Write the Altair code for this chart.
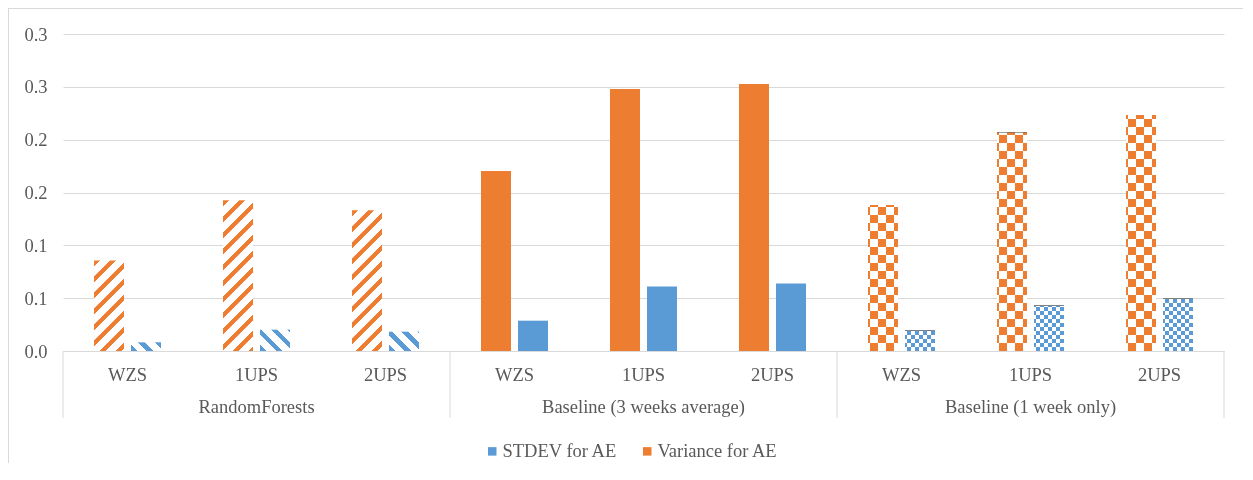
import altair as alt
import pandas as pd

# ---------------- data ----------------
groups = ["RandomForests", "Baseline (3 weeks average)", "Baseline (1 week only)"]
categories = ["WZS", "1UPS", "2UPS"]
variance_ae = [0.0857, 0.1426, 0.1331, 0.1704, 0.2480, 0.2527, 0.1381, 0.2071, 0.2233]
stdev_ae = [0.0082, 0.0202, 0.0183, 0.0287, 0.0610, 0.0639, 0.0195, 0.0430, 0.0496]
series_names = ["STDEV for AE", "Variance for AE"]
group_patterns = ["stripes", "solid", "checker"]
y_ticks = [0, 0.05, 0.1, 0.15, 0.2, 0.25, 0.3]
y_tick_labels = ["0.0", "0.1", "0.1", "0.2", "0.2", "0.3", "0.3"]

# ---------------- style / layout ----------------
BLUE, ORANGE = "#5B9BD5", "#ED7D31"
GRID, TEXT = "#D9D9D9", "#595959"
FONT, FS = "Liberation Serif", 18.5
W, H = 1161, 317
PAD_L, PAD_T, PAD_R, PAD_B = 55, 26, 19, 112
PI, PO = 7 / 37, 31 / 37
YMAX = 0.3

keys = [f"{gi}|{c}" for gi in range(len(groups)) for c in categories]
rows = []
for gi, g in enumerate(groups):
    for ci, c in enumerate(categories):
        i = gi * len(categories) + ci
        rows.append(dict(key=keys[i], group=g, cat=c, series=series_names[1],
                         value=variance_ae[i], pattern=group_patterns[gi], bar=f"v{i}"))
        rows.append(dict(key=keys[i], group=g, cat=c, series=series_names[0],
                         value=stdev_ae[i], pattern=group_patterns[gi], bar=f"s{i}"))
df = pd.DataFrame(rows)

# bar pixel width from the band layout
step9 = W / len(keys)
sub = step9 / (2 - PI + 2 * PO)
BW = sub * (1 - PI)


def px_h(v):
    return v * H / YMAX


def stripe_stops(length, period, on_len, phase, c_on, c_off):
    pts = []
    s = -phase
    while s < length:
        for p, q, col in ((s, s + on_len, c_on), (s + on_len, s + period, c_off)):
            p2, q2 = max(p, 0.0), min(q, length)
            if q2 > p2:
                pts.append((p2, col))
                pts.append((q2, col))
        s += period
    return [{"offset": round(p / length, 5), "color": col} for p, col in pts]


def diag_gradient(color, h, w, down):
    L = w + h
    c = w * L / (w * w + h * h)
    stops = stripe_stops(L, 16, 6.5, 0, color, "#FFFFFF")
    if down:
        return {"gradient": "linear", "x1": 0, "y1": 1, "x2": c, "y2": 1 - c * h / w, "stops": stops}
    return {"gradient": "linear", "x1": 0, "y1": 0, "x2": c, "y2": c * h / w, "stops": stops}


def vstripe_gradient(xcol, w, period, phase):
    return {"gradient": "linear", "x1": 0, "y1": 0, "x2": 1, "y2": 0,
            "stops": stripe_stops(w, period, period / 2, phase, xcol, "#000000")}


def hstripe_gradient(xcol, h, period):
    return {"gradient": "linear", "x1": 0, "y1": 1, "x2": 0, "y2": 0,
            "stops": stripe_stops(h, period, period / 2, 0, xcol, "#000000")}


# ---------------- encodings ----------------
x_scale = alt.Scale(domain=keys, paddingInner=0, paddingOuter=0)
x_axis = alt.Axis(title=None, labelExpr="split(datum.value, '|')[1]", domainColor=GRID,
                  domainWidth=1, ticks=False, labelPadding=14, labelFont=FONT,
                  labelFontSize=FS, labelColor=TEXT, grid=False, labelAngle=0)


def xenc(**kw):
    return alt.X("key:N", scale=x_scale, axis=x_axis, **kw)


xoff = alt.XOffset("series:N", scale=alt.Scale(domain=[series_names[1], series_names[0]],
                                               paddingInner=PI, paddingOuter=PO))

expr = f"'{y_tick_labels[-1]}'"
for i in range(len(y_ticks) - 2, -1, -1):
    mid = (y_ticks[i] + y_ticks[i + 1]) / 2
    expr = f"datum.value < {mid} ? '{y_tick_labels[i]}' : ({expr})"

y_axis = alt.Axis(title=None, values=y_ticks, labelExpr=expr, grid=True, gridColor=GRID,
                  gridWidth=1, domain=False, ticks=False, labelPadding=16, labelFont=FONT,
                  labelFontSize=FS, labelColor=TEXT)
yenc = alt.Y("value:Q", scale=alt.Scale(domain=[0, YMAX], nice=False, zero=True),
             axis=y_axis, stack=None)

base = alt.Chart(df)

# frame (top and left border of the chart area)
one = pd.DataFrame({"k": [0]})
frame_v = alt.Chart(one).mark_rule(color=GRID, strokeWidth=1).encode(
    x=alt.value(-PAD_L + 0.5), y=alt.value(-PAD_T + 0.5), y2=alt.value(H + PAD_B))
frame_h = alt.Chart(one).mark_rule(color=GRID, strokeWidth=1).encode(
    y=alt.value(-PAD_T + 0.5), x=alt.value(-PAD_L), x2=alt.value(W + PAD_R))

solid = base.transform_filter(alt.datum.pattern == "solid").mark_bar().encode(
    x=xenc(), xOffset=xoff, y=yenc,
    color=alt.Color("series:N",
                    scale=alt.Scale(domain=series_names, range=[BLUE, ORANGE]),
                    legend=alt.Legend(title=None, orient="none", legendX=420, legendY=408,
                                      direction="horizontal", symbolType="square",
                                      symbolSize=72, symbolStrokeWidth=0, labelFont=FONT,
                                      labelFontSize=FS, labelColor=TEXT, columnPadding=20,
                                      labelOffset=1, padding=0)))

layers = [frame_v, frame_h, solid]

# striped bars (RandomForests)
for i in range(0, 3):
    for sid, val, col, down in ((f"v{i}", variance_ae[i], ORANGE, False),
                                (f"s{i}", stdev_ae[i], BLUE, True)):
        g = diag_gradient(col, px_h(val), BW, down)
        layers.append(base.transform_filter(alt.datum.bar == sid).mark_bar(fill=g).encode(
            x=xenc(), xOffset=xoff, y=yenc))

# checkered bars (Baseline 1 week) : XOR via difference blending
XO = "#1282CE"  # 255 - orange
XB = "#A4642A"  # 255 - blue
layers.append(base.transform_filter((alt.datum.pattern == "checker") &
                                    (alt.datum.series == series_names[1]))
              .mark_bar(fill=vstripe_gradient(XO, BW, 16, 6)).encode(x=xenc(), xOffset=xoff, y=yenc))
layers.append(base.transform_filter((alt.datum.pattern == "checker") &
                                    (alt.datum.series == series_names[0]))
              .mark_bar(fill=vstripe_gradient(XB, BW, 8, 2)).encode(x=xenc(), xOffset=xoff, y=yenc))
for i in range(6, 9):
    for sid, val, xc, per in ((f"v{i}", variance_ae[i], XO, 16), (f"s{i}", stdev_ae[i], XB, 8)):
        g = hstripe_gradient(xc, px_h(val), per)
        layers.append(base.transform_filter(alt.datum.bar == sid)
                      .mark_bar(fill=g, blend="difference").encode(x=xenc(), xOffset=xoff, y=yenc))
layers.append(base.transform_filter(alt.datum.pattern == "checker")
              .mark_bar(fill="#FFFFFF", blend="difference").encode(x=xenc(), xOffset=xoff, y=yenc))

# group separators below the axis
sep_left = pd.DataFrame({"key": [keys[0], keys[3], keys[6]]})
sep_right = pd.DataFrame({"key": [keys[-1]]})
for d, bp in ((sep_left, 0), (sep_right, 1)):
    layers.append(alt.Chart(d).mark_rule(color=GRID, strokeWidth=1).encode(
        x=xenc(bandPosition=bp), y=alt.value(H), y2=alt.value(H + 67)))

# group labels
glab = pd.DataFrame({"key": [keys[1], keys[4], keys[7]], "label": groups})
layers.append(alt.Chart(glab).mark_text(font=FONT, fontSize=FS, color=TEXT, baseline="alphabetic",
                                        align="center").encode(
    x=xenc(), y=alt.value(378.7), text="label:N"))

chart = alt.layer(*layers).properties(
    width=W, height=H,
    padding={"left": PAD_L, "top": PAD_T, "right": PAD_R, "bottom": PAD_B},
    autosize=alt.AutoSizeParams(type="none"),
).configure(font=FONT).configure_view(stroke=None)

chart.save("out.html", embed_options={"renderer": "svg", "actions": False})
